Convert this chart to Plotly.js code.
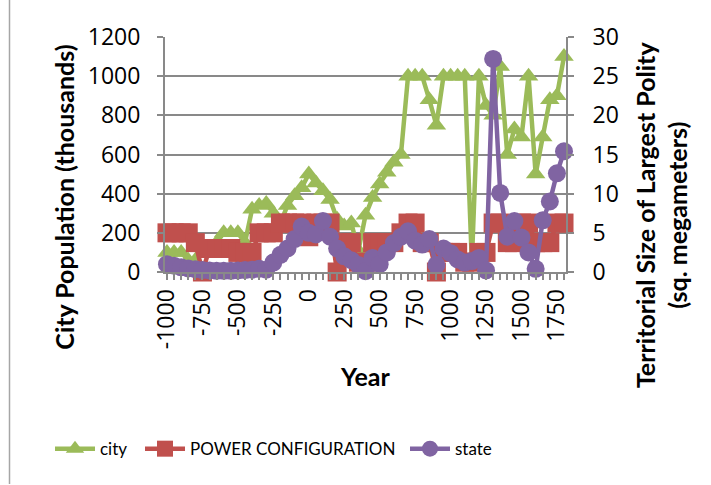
<!DOCTYPE html>
<html>
<head>
<meta charset="utf-8">
<script src="https://cdn.plot.ly/plotly-3.0.1.min.js"></script>
<style>
  html, body { margin: 0; padding: 0; background: #ffffff; }
  #chart { width: 711px; height: 485px; }
</style>
</head>
<body>
<div id="chart"></div>
<script>
// ---- data ----
const years = [-1000,-950,-900,-850,-800,-750,-700,-650,-600,-550,-500,-450,-400,-350,-300,-250,-200,-150,-100,-50,
  0,50,100,150,200,250,300,350,400,450,500,550,600,650,700,750,800,850,900,950,
  1000,1050,1100,1150,1200,1250,1300,1350,1400,1450,1500,1550,1600,1650,1700,1750,1800];

const city = [100,100,100,60,60,100,110,150,200,200,200,150,320,340,350,300,250,340,390,430,
  500,455,415,370,270,235,250,110,290,380,450,510,560,600,1000,1000,1000,880,750,1000,
  1000,1000,1000,50,1000,850,800,1050,600,730,690,1000,500,690,880,900,1100];

const power = [200,200,200,200,150,0,120,120,120,120,100,100,100,200,200,200,250,250,250,250,
  180,250,250,250,0,150,150,50,50,150,150,150,150,200,250,250,150,150,0,100,
  100,100,50,50,100,100,250,250,150,150,250,250,150,150,150,250,250];

const state = [1.0,0.8,0.6,0.45,0.35,0.25,0.2,0.15,0.15,0.15,0.2,0.25,0.3,0.4,0.3,1.2,2.2,3.0,4.2,5.8,
  5.0,4.8,6.5,4.5,3.0,2.0,1.5,0.9,0.1,1.8,1.0,2.5,3.7,4.5,5.2,4.0,3.5,4.2,0.9,3.0,
  2.4,1.6,1.2,1.4,1.8,0.2,27.2,10.1,4.5,6.5,4.4,2.5,0.4,6.6,9.0,12.6,15.4];

const xTickVals = [-1000,-750,-500,-250,0,250,500,750,1000,1250,1500,1750];
const xTickText = ['-1000','-750','-500','-250','0','250','500','750','1000','1250','1500','1750'];

// ---- style ----
const FONT = 'Lato, "Open Sans", sans-serif';
const TICKFONT = '"Open Sans", Lato, sans-serif';
const GRID = '#898989';
const GREEN = '#9BBB59', RED = '#C0504D', PURPLE = '#8064A2';

// plot area in px
const L = 165, R = 566, T = 37, B = 272.5, W = 711, H = 485;
const px = x => (x - L) / (R - L);
const py = y => (B - y) / (B - T);

const traces = [
  { x: years, y: city, name: 'city', type: 'scatter', mode: 'lines+markers',
    line: { color: GREEN, width: 4.5 }, marker: { symbol: 'triangle-up', size: 17, color: GREEN },
    cliponaxis: false, legend: 'legend' },
  { x: years, y: power, name: 'POWER CONFIGURATION', type: 'scatter', mode: 'lines+markers',
    line: { color: RED, width: 4.5 }, marker: { symbol: 'square', size: 19, color: RED },
    cliponaxis: false, legend: 'legend2' },
  { x: years, y: state, name: 'state', type: 'scatter', mode: 'lines+markers', yaxis: 'y2',
    line: { color: PURPLE, width: 4.5 }, marker: { symbol: 'circle', size: 18, color: PURPLE },
    cliponaxis: false, legend: 'legend3' }
];

const axisCommon = {
  showline: true, linecolor: GRID, linewidth: 2,
  ticks: 'outside', ticklen: 6, tickwidth: 2, tickcolor: GRID,
  zeroline: false, tickfont: { family: TICKFONT, size: 23, color: '#000' }
};

const legendCommon = {
  orientation: 'h', yanchor: 'middle', xanchor: 'left',
  font: { family: FONT, size: 17, color: '#000' }, bgcolor: 'rgba(0,0,0,0)',
  itemwidth: 40
};

const layout = {
  width: W, height: H,
  margin: { l: L, r: W - R, t: T, b: H - B, autoexpand: false },
  paper_bgcolor: '#fff', plot_bgcolor: '#fff',
  showlegend: true,
  xaxis: Object.assign({}, axisCommon, {
    range: [-1014, 1814], tickmode: 'array', tickvals: xTickVals, ticktext: xTickText,
    tickangle: -90, showgrid: false,
    minor: { dtick: 50, tick0: -1000, ticks: 'outside', ticklen: 6, tickwidth: 2, tickcolor: GRID, showgrid: false }
  }),
  yaxis: Object.assign({}, axisCommon, {
    range: [0, 1200], dtick: 200, showgrid: true, gridcolor: GRID, gridwidth: 2,
    ticklabelstandoff: 12
  }),
  yaxis2: Object.assign({}, axisCommon, {
    range: [0, 30], dtick: 5, overlaying: 'y', side: 'right', showgrid: false,
    ticklabelstandoff: 14
  }),
  legend: Object.assign({}, legendCommon, { x: px(50), y: py(450) }),
  legend2: Object.assign({}, legendCommon, { x: px(140), y: py(450) }),
  legend3: Object.assign({}, legendCommon, { x: px(405), y: py(450) }),
  shapes: [
    { type: 'line', xref: 'paper', yref: 'paper', x0: px(9.5), x1: px(9.5), y0: py(0), y1: py(H),
      line: { color: '#a6a6a6', width: 1.5 } }
  ],
  annotations: [
    { text: '<b>City Population (thousands)</b>', textangle: -90, showarrow: false,
      xref: 'paper', yref: 'paper', x: px(64), y: py(197), xanchor: 'center', yanchor: 'middle',
      font: { family: FONT, size: 25, color: '#000' } },
    { text: '<b>Territorial Size of Largest Polity<br>(sq. megameters)</b>', textangle: -90, showarrow: false,
      xref: 'paper', yref: 'paper', x: px(661.5), y: py(215), xanchor: 'center', yanchor: 'middle',
      font: { family: FONT, size: 25, color: '#000' } },
    { text: '<b>Year</b>', showarrow: false,
      xref: 'paper', yref: 'paper', x: px(365), y: py(377), xanchor: 'center', yanchor: 'middle',
      font: { family: FONT, size: 25, color: '#000' } }
  ]
};

Plotly.newPlot('chart', traces, layout, { displayModeBar: false, responsive: false });
</script>
</body>
</html>
